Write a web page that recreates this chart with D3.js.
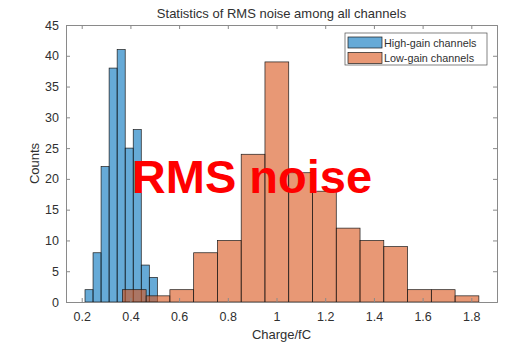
<!DOCTYPE html>
<html>
<head>
<meta charset="utf-8">
<script src="https://cdn.jsdelivr.net/npm/d3@7"></script>
<style>
  body { margin: 0; background: #fff; }
  text { font-family: "Liberation Sans", Arial, Helvetica, sans-serif; }
</style>
</head>
<body>
<svg id="chart" width="513" height="347"></svg>
<script>
// histogram counts
const highCounts = [2, 8, 22, 38, 41, 25, 28, 6, 4];
const highStart = 0.2136, highWidth = 0.033;
const lowCounts = [2, 1, 2, 8, 10, 24, 39, 21, 18, 12, 10, 9, 2, 2, 1];
const lowStart = 0.367, lowWidth = 0.0976;

const xTicks = [0.2, 0.4, 0.6, 0.8, 1, 1.2, 1.4, 1.6, 1.8];
const yTicks = [0, 5, 10, 15, 20, 25, 30, 35, 40, 45];
const seriesNames = ["High-gain channels", "Low-gain channels"];

const width = 513, height = 347;
const marginTop = 25, marginRight = 16, marginBottom = 45, marginLeft = 66;
const axisColor = "#8a8a8a", textColor = "#303030";
const colors = ["rgb(0,114,189)", "rgb(217,83,25)"];

const svg = d3.select("#chart");

const x = d3.scaleLinear()
    .domain([0.1355, 1.9055])
    .range([marginLeft, width - marginRight]);
const y = d3.scaleLinear()
    .domain([0, 45])
    .range([height - marginBottom, marginTop]);

// turn counts into bins
const toBins = (counts, start, w) => counts.map((c, i) => ({x0: start + i * w, x1: start + (i + 1) * w, n: c}));
const series = [
    toBins(highCounts, highStart, highWidth),
    toBins(lowCounts, lowStart, lowWidth)
];

series.forEach((bins, k) => {
    svg.append("g")
        .selectAll("rect")
        .data(bins)
        .join("rect")
        .attr("x", d => x(d.x0))
        .attr("y", d => y(d.n))
        .attr("width", d => x(d.x1) - x(d.x0))
        .attr("height", d => y(0) - y(d.n))
        .attr("fill", colors[k])
        .attr("fill-opacity", 0.6)
        .attr("stroke", "#1a1a1a")
        .attr("stroke-width", 0.7);
});

// axes with box and inner ticks on all four sides
const tickLen = 4;
const fmt = d => d3.format("")(d);
const axBottom = svg.append("g")
    .attr("transform", `translate(0,${y(0)})`)
    .call(d3.axisBottom(x).tickValues(xTicks).tickSize(-tickLen).tickPadding(10).tickFormat(fmt));
const axTop = svg.append("g")
    .attr("transform", `translate(0,${y(45)})`)
    .call(d3.axisTop(x).tickValues(xTicks).tickSize(-tickLen).tickFormat(""));
const axLeft = svg.append("g")
    .attr("transform", `translate(${x.range()[0]},0)`)
    .call(d3.axisLeft(y).tickValues(yTicks).tickSize(-tickLen).tickPadding(7));
const axRight = svg.append("g")
    .attr("transform", `translate(${x.range()[1]},0)`)
    .call(d3.axisRight(y).tickValues(yTicks).tickSize(-tickLen).tickFormat(""));

[axBottom, axTop, axLeft, axRight].forEach(g => {
    g.select(".domain").attr("stroke", axisColor).attr("stroke-width", 1);
    g.selectAll(".tick line").attr("stroke", axisColor);
    g.selectAll(".tick text")
        .attr("fill", textColor)
        .style("font-size", "12.5px")
        .style("font-family", "'Liberation Sans', Arial, sans-serif");
});

// titles
svg.append("text")
    .attr("x", (x.range()[0] + x.range()[1]) / 2)
    .attr("y", 18)
    .attr("text-anchor", "middle")
    .attr("fill", textColor)
    .style("font-size", "13px")
    .text("Statistics of RMS noise among all channels");

svg.append("text")
    .attr("x", (x.range()[0] + x.range()[1]) / 2)
    .attr("y", 339)
    .attr("text-anchor", "middle")
    .attr("fill", textColor)
    .style("font-size", "13px")
    .text("Charge/fC");

svg.append("text")
    .attr("transform", `translate(39,${(y(0) + y(45)) / 2}) rotate(-90)`)
    .attr("text-anchor", "middle")
    .attr("fill", textColor)
    .style("font-size", "13px")
    .text("Counts");

// legend
const legend = svg.append("g").attr("transform", "translate(345,33)");
legend.append("rect")
    .attr("width", 142).attr("height", 32)
    .attr("fill", "#fff")
    .attr("stroke", "#4d4d4d")
    .attr("stroke-width", 0.7);
seriesNames.forEach((name, k) => {
    const row = legend.append("g").attr("transform", `translate(3,${4 + k * 15.5})`);
    row.append("rect")
        .attr("width", 34).attr("height", 11)
        .attr("fill", colors[k]).attr("fill-opacity", 0.6)
        .attr("stroke", "#1a1a1a").attr("stroke-width", 0.7);
    row.append("text")
        .attr("x", 36).attr("y", 9.5)
        .attr("fill", textColor)
        .style("font-size", "10.8px")
        .text(name);
});

// overlay label
svg.append("text")
    .attr("x", 252)
    .attr("y", 192.5)
    .attr("text-anchor", "middle")
    .attr("fill", "#ff0000")
    .style("font-size", "47px")
    .style("font-weight", "bold")
    .text("RMS noise");
</script>
</body>
</html>
